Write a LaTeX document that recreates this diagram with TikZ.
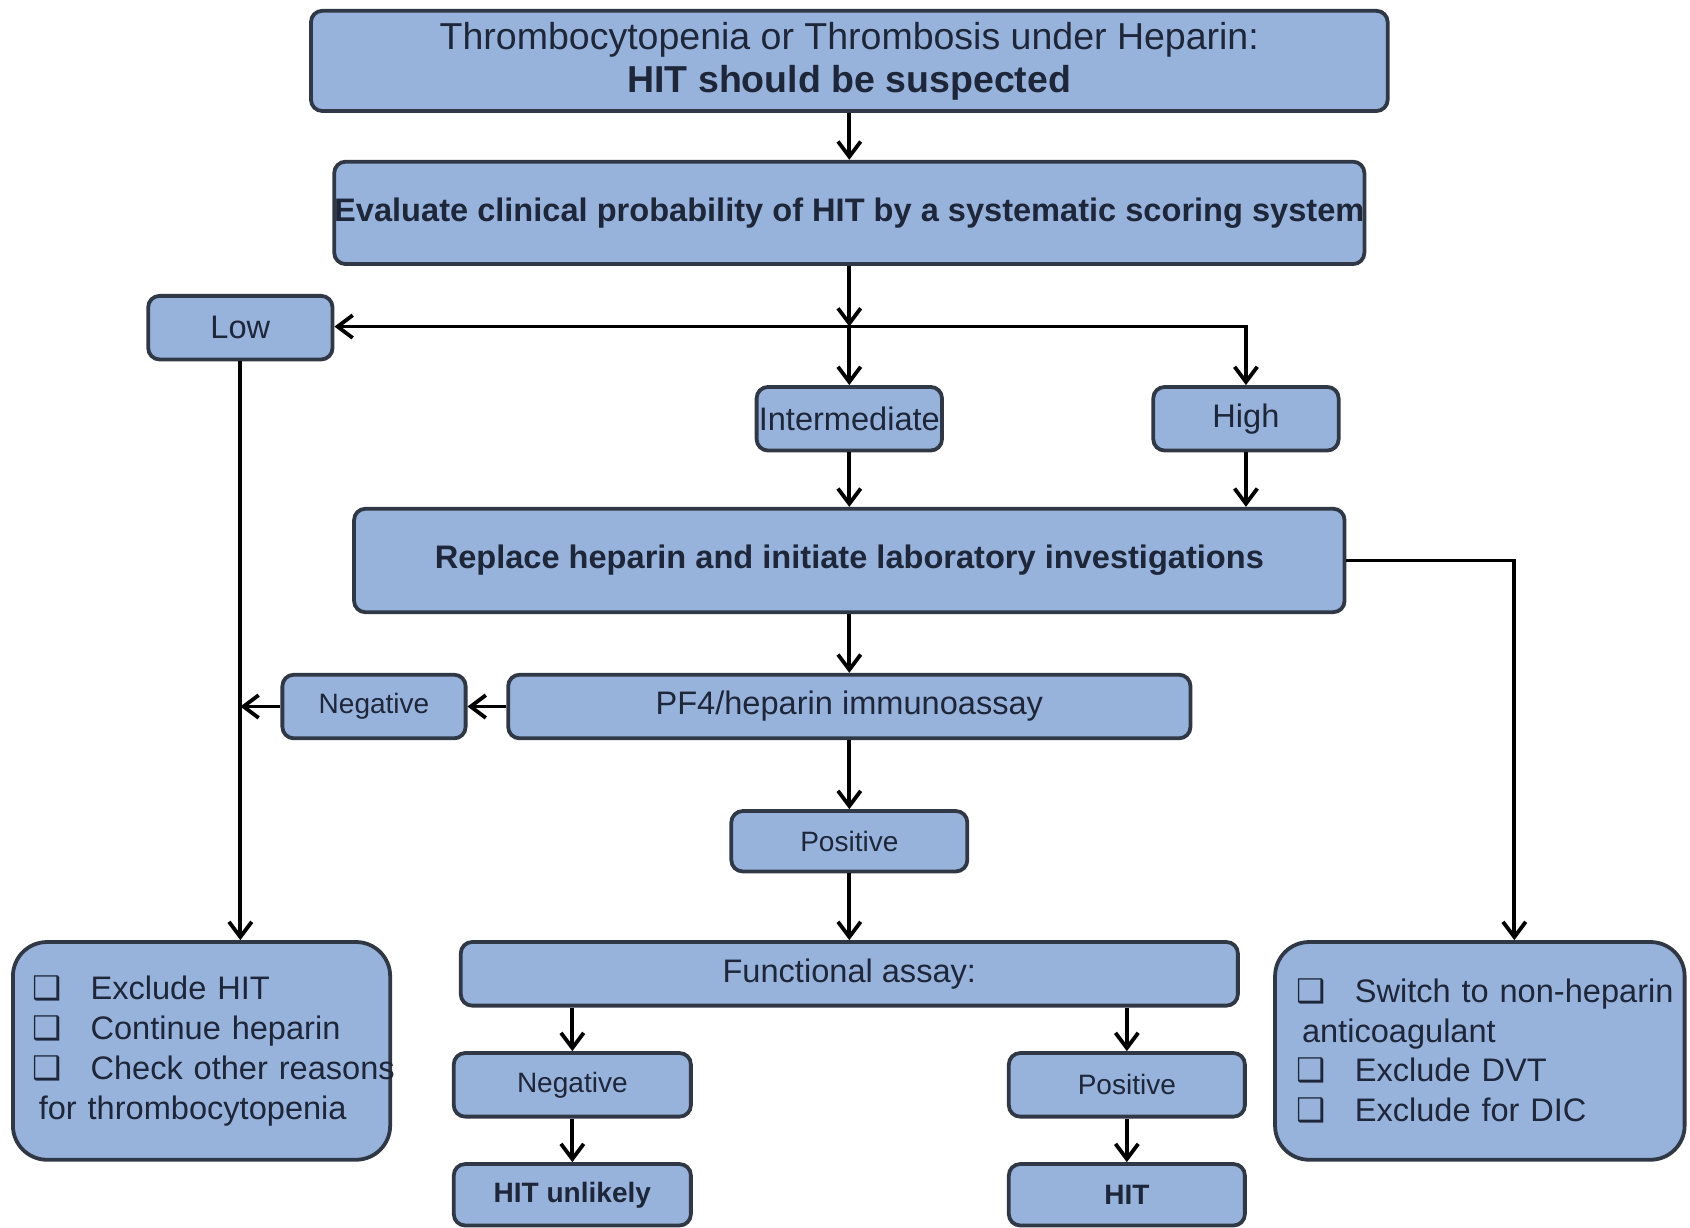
\documentclass[tikz,border=0pt]{standalone}
\usepackage{fontspec}
\setmainfont{Liberation Sans}
\newfontfamily\boxglyph{DejaVu Sans}
\usetikzlibrary{arrows.meta}
\definecolor{boxblue}{RGB}{152,179,219}
\definecolor{boxline}{RGB}{48,56,70}
\definecolor{boxtext}{RGB}{30,38,58}
\newcommand{\chk}{\makebox[0.54cm][l]{\boxglyph ❑}}

\begin{document}
\begin{tikzpicture}[>={Straight Barb[length=4pt,width=6pt]},line width=1pt,
 box/.style={draw=boxline,fill=boxblue,rounded corners=3pt,inner sep=0pt,text=boxtext,align=center,font=\fontsize{8.6}{10.5}\selectfont},
 boldbox/.style={box,font=\fontsize{8.6}{10.5}\selectfont\bfseries},
 smallbox/.style={box,font=\fontsize{7.4}{9}\selectfont},
 listbox/.style={box,rounded corners=9pt,align=left,minimum width=#1,minimum height=2.02cm}]
\useasboundingbox (0,0) rectangle (15.68,-11.39);
\node[box,minimum width=9.99cm,minimum height=0.93cm,font=\fontsize{9.9}{11.4}\selectfont] (top) at (7.88,-0.565) {Thrombocytopenia or Thrombosis under Heparin:\\\textbf{HIT should be suspected}};
\node[boldbox,minimum width=9.54cm,minimum height=0.95cm] (eval) at (7.88,-1.975) {Evaluate clinical probability of HIT by a systematic scoring system};
\coordinate (split) at (7.88,-3.03);
\node[box,minimum width=1.71cm,minimum height=0.59cm] (low) at (2.23,-3.04) {Low};
\node[box,minimum width=1.72cm,minimum height=0.59cm] (inter) at (7.88,-3.885) {Intermediate};
\node[box,minimum width=1.72cm,minimum height=0.59cm] (high) at (11.56,-3.885) {High};
\node[boldbox,minimum width=9.19cm,minimum height=0.96cm] (replace) at (7.88,-5.2) {Replace heparin and initiate laboratory investigations};
\node[box,minimum width=6.33cm,minimum height=0.59cm] (pf4) at (7.88,-6.555) {PF4/heparin immunoassay};
\node[smallbox,minimum width=1.70cm,minimum height=0.59cm] (neg1) at (3.47,-6.555) {Negative};
\node[smallbox,minimum width=2.19cm,minimum height=0.56cm] (pos1) at (7.88,-7.805) {Positive};
\node[box,minimum width=7.21cm,minimum height=0.59cm] (func) at (7.88,-9.035) {Functional assay:};
\node[smallbox,minimum width=2.20cm,minimum height=0.59cm] (neg2) at (5.31,-10.065) {Negative};
\node[smallbox,minimum width=2.19cm,minimum height=0.59cm] (pos2) at (10.455,-10.065) {Positive};
\node[smallbox,minimum width=2.20cm,minimum height=0.57cm,font=\fontsize{7.4}{9}\selectfont\bfseries] (unlikely) at (5.31,-11.085) {HIT unlikely};
\node[smallbox,minimum width=2.19cm,minimum height=0.57cm,font=\fontsize{7.4}{9}\selectfont\bfseries] (hit) at (10.455,-11.085) {HIT};
\node[listbox=3.50cm,text width=3.14cm] (lbox) at (1.87,-9.75) {\mbox{\chk Exclude HIT}\\\mbox{\chk Continue heparin}\\\mbox{\chk Check other reasons}\\\mbox{\hspace*{0.06cm}for thrombocytopenia}};
\node[listbox=3.80cm,text width=3.40cm] (rbox) at (13.73,-9.75) {\mbox{\chk Switch to non-heparin}\\\mbox{\hspace*{0.05cm}anticoagulant}\\\mbox{\chk Exclude DVT}\\\mbox{\chk Exclude for DIC}};
% connectors
\draw[->] (top) -- (eval);
\draw[->] (eval) -- (split);
\draw[->] (split) -- (inter);
\draw[->] (split) -| (high);
\draw[->] (split) -- (split -| low.east);
\draw[->] (low) -- (low |- lbox.north);
\draw[->] (inter) -- (inter |- replace.north);
\draw[->] (high) -- (high |- replace.north);
\draw[->] (replace.east) -| ([xshift=0.32cm]rbox.north);
\draw[->] (replace) -- (pf4);
\draw[->] (pf4) -- (neg1);
\draw[->] (neg1) -- (neg1 -| low);
\draw[->] (pf4) -- (pos1);
\draw[->] (pos1) -- (func);
\draw[->] (neg2 |- func.south) -- (neg2);
\draw[->] (pos2 |- func.south) -- (pos2);
\draw[->] (neg2) -- (unlikely);
\draw[->] (pos2) -- (hit);
\end{tikzpicture}
\end{document}
